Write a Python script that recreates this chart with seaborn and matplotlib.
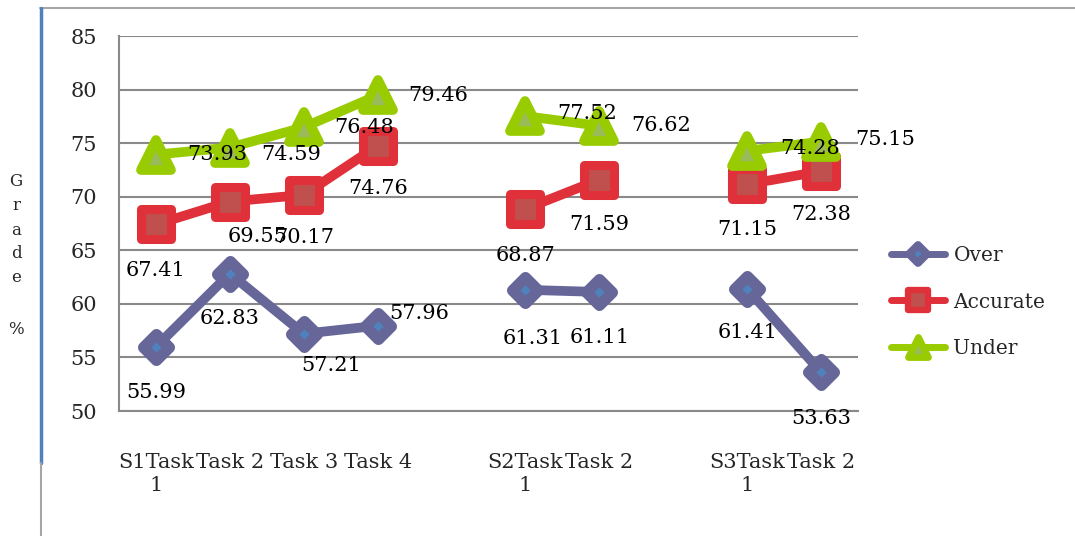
import numpy as np
import pandas as pd
import matplotlib
matplotlib.use("Agg")
import matplotlib.pyplot as plt
import seaborn as sns
from matplotlib.lines import Line2D
from matplotlib.markers import MarkerStyle

# datos
categories = ["S1Task\n1", "Task 2", "Task 3", "Task 4", "",
              "S2Task\n1", "Task 2", "",
              "S3Task\n1", "Task 2"]
over = [55.99, 62.83, 57.21, 57.96, np.nan, 61.31, 61.11, np.nan, 61.41, 53.63]
accurate = [67.41, 69.55, 70.17, 74.76, np.nan, 68.87, 71.59, np.nan, 71.15, 72.38]
under = [73.93, 74.59, 76.48, 79.46, np.nan, 77.52, 76.62, np.nan, 74.28, 75.15]
series_names = ["Over", "Accurate", "Under"]

sns.set_style("white")
plt.rcParams["font.family"] = ["DejaVu Serif"]

# estilos de cada serie
styles = {
    "Over": dict(color="#666699", mfc="#4F81BD", marker="D", ms=13.5, mew=8),
    "Accurate": dict(color="#E0303A", mfc="#C0504D", marker="s", ms=21.5, mew=6.5),
    "Under": dict(color="#99CC00", mfc="#9BBB59", marker="^", ms=22, mew=7),
}
# desplazamiento de las etiquetas (pixeles, y hacia abajo)
label_offsets = {
    "Over": [(0, 46), (0, 45), (27, 32), (42, -12), None, (7, 49), (0, 46), None, (0, 44), (0, 46)],
    "Accurate": [(0, 46), (28, 35), (0, 43), (0, 43), None, (0, 47), (0, 45), None, (0, 45), (0, 43)],
    "Under": [(61, 0), (61, 7), (60, 0), (61, 0), None, (62, -3), (62, 0), None, (63, -2), (64, -2)],
}

fig = plt.figure(figsize=(10.75, 5.36), dpi=100)
ax = fig.add_axes([119 / 1075, 1 - 411 / 536, (858 - 119) / 1075, (411 - 36) / 536])

handles = []
for name, vals in zip(series_names, [over, accurate, under]):
    df = pd.DataFrame({"pos": np.arange(len(categories)), "grade": vals})
    df["block"] = df["grade"].isna().cumsum()
    df = df.dropna()
    st = styles[name]
    mk = MarkerStyle(st["marker"], joinstyle="round")
    sns.lineplot(data=df, x="pos", y="grade", units="block", estimator=None,
                 color=st["color"], linewidth=7, marker=mk, markersize=st["ms"],
                 markerfacecolor=st["mfc"], markeredgecolor=st["color"],
                 markeredgewidth=st["mew"], solid_joinstyle="round",
                 solid_capstyle="round", ax=ax, legend=False)
    handles.append(Line2D([], [], color=st["color"], linewidth=5, marker=mk,
                          markersize=st["ms"] * 0.65, markerfacecolor=st["mfc"],
                          markeredgecolor=st["color"], markeredgewidth=st["mew"] * 0.7,
                          solid_capstyle="round", label=name))
    for i, v in enumerate(vals):
        off = label_offsets[name][i]
        if off is None or np.isnan(v):
            continue
        ax.annotate(f"{v:.2f}", (i, v), xytext=(off[0] * 0.72, -off[1] * 0.72),
                    textcoords="offset points", ha="center", va="center",
                    fontsize=15, color="black", zorder=10)

ax.set_xlim(-0.5, len(categories) - 0.5)
ax.set_ylim(50, 85)
ax.set_yticks(range(50, 86, 5))
ax.set_xticks(np.arange(-0.5, len(categories), 1))
ax.set_xticklabels([])
ax.set_xticks(np.arange(len(categories)), minor=True)
ax.set_xticklabels(categories, minor=True, fontsize=15, linespacing=1.3)
ax.tick_params(axis="x", which="minor", length=0, pad=30)
ax.tick_params(axis="x", which="major", length=7, width=1.5, color="#898989", direction="out")
ax.tick_params(axis="y", length=6, width=1.5, color="#898989", labelsize=15, pad=10, direction="out")
for lab in ax.get_xticklabels(minor=True):
    lab.set_verticalalignment("top")
ax.grid(axis="y", color="#898989", linewidth=1.5)
ax.set_axisbelow(True)
ax.set_xlabel("")
ax.set_ylabel("")
for s in ["top", "right"]:
    ax.spines[s].set_visible(False)
for s in ["left", "bottom"]:
    ax.spines[s].set_color("#898989")
    ax.spines[s].set_linewidth(1.5)

# titulo del eje vertical, letra por letra
for ch, yp in zip(["G", "r", "a", "d", "e", "%"], [182, 206, 230, 254, 278, 330]):
    fig.text(16 / 1075, 1 - yp / 536, ch, fontsize=12, ha="center", va="center")

fig.legend(handles=handles, loc="center left", bbox_to_anchor=(881 / 1075, 1 - 302 / 536),
           frameon=False, borderpad=0, fontsize=14.5, handlelength=2.7,
           handletextpad=0.4, labelspacing=1.35)

# marco del grafico
fig.add_artist(Line2D([40 / 1075, 1], [1 - 8 / 536, 1 - 8 / 536], color="#A6A6A6", linewidth=1.5))
fig.add_artist(Line2D([41 / 1075, 41 / 1075], [1 - 8 / 536, 1 - 463 / 536], color="#4F81BD", linewidth=2.5))
fig.add_artist(Line2D([41 / 1075, 41 / 1075], [1 - 463 / 536, 0], color="#A6A6A6", linewidth=1.5))

fig.savefig("out.png", dpi=100)
